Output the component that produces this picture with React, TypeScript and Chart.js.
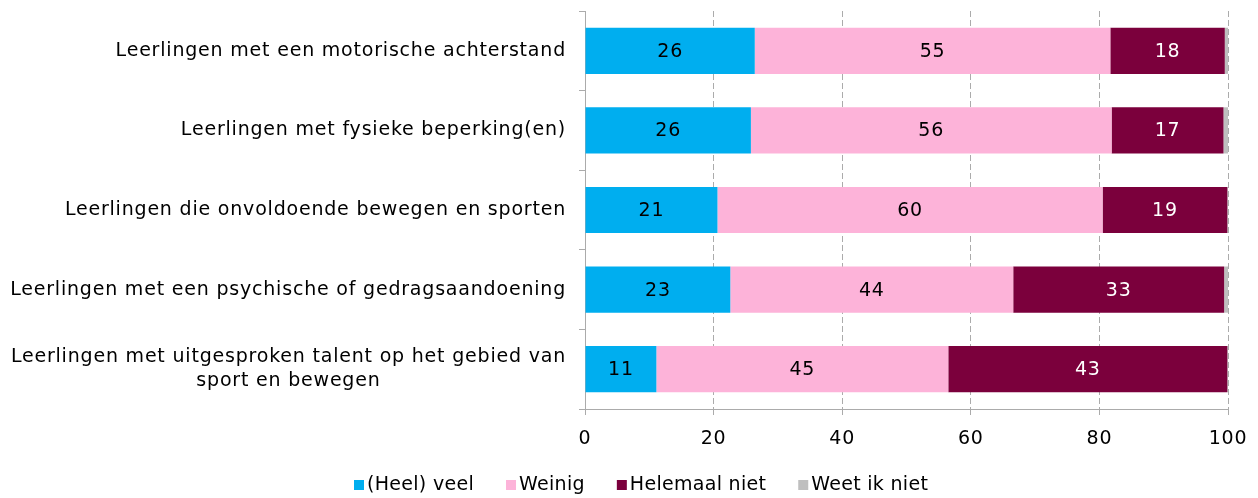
import React, { useEffect, useRef } from "react";
import { Chart, registerables } from "chart.js";

Chart.register(...registerables);

const categories: string[][] = [
  ["Leerlingen met een motorische achterstand"],
  ["Leerlingen met fysieke beperking(en)"],
  ["Leerlingen die onvoldoende bewegen en sporten"],
  ["Leerlingen met een psychische of gedragsaandoening"],
  ["Leerlingen met uitgesproken talent op het gebied van", "sport en bewegen"],
];
const seriesNames = ["(Heel) veel", "Weinig", "Helemaal niet", "Weet ik niet"];
const heelVeel = [26.4, 25.8, 20.6, 22.6, 11.1];
const weinig = [55.3, 56.1, 59.9, 44.0, 45.4];
const helemaalNiet = [17.8, 17.4, 19.4, 32.8, 43.4];
const weetIkNiet = [0.5, 0.7, 0.1, 0.6, 0.1];
const xMin = 0;
const xMax = 100;
const xStep = 20;

const seriesColors = ["#00AEEF", "#FDB3D9", "#7B003C", "#BFBFBF"];
const valueLabelColors: (string | null)[] = ["#000000", "#000000", "#FFFFFF", null];

const FONT = '"DejaVu Sans", sans-serif';
const FONT_SIZE = 19;
const SPACING = "0.8px";
const LEGEND_SPACING = "0.3px";

const spacingPlugin = {
  id: "spacing",
  beforeDraw(chart: any) {
    (chart.ctx as any).letterSpacing = SPACING;
  },
};

const yLabelPlugin = {
  id: "yLabels",
  afterDraw(chart: any) {
    const ctx = chart.ctx;
    const y = chart.scales.y;
    ctx.save();
    ctx.letterSpacing = SPACING;
    ctx.font = `${FONT_SIZE}px ${FONT}`;
    ctx.fillStyle = "#000000";
    ctx.textBaseline = "middle";
    ctx.textAlign = "center";
    categories.forEach((lines, i) => {
      const cy = y.getPixelForTick(i);
      const widths = lines.map((l) => ctx.measureText(l).width);
      const maxW = Math.max(...widths);
      const cx = chart.chartArea.left - 19 - maxW / 2;
      const lh = 24;
      const startY = cy - ((lines.length - 1) * lh) / 2;
      lines.forEach((l, j) => ctx.fillText(l, cx, startY + j * lh));
    });
    ctx.restore();
  },
};

const valueLabelPlugin = {
  id: "valueLabels",
  afterDatasetsDraw(chart: any) {
    const ctx = chart.ctx;
    ctx.save();
    ctx.letterSpacing = SPACING;
    ctx.font = `${FONT_SIZE}px ${FONT}`;
    ctx.textAlign = "center";
    ctx.textBaseline = "middle";
    chart.data.datasets.forEach((ds: any, di: number) => {
      const col = valueLabelColors[di];
      if (!col) return;
      const meta = chart.getDatasetMeta(di);
      ctx.fillStyle = col;
      meta.data.forEach((bar: any, i: number) => {
        const v = ds.data[i] as number;
        const { x, base, y } = bar.getProps(["x", "base", "y"], true);
        ctx.fillText(String(Math.round(v)), (x + base) / 2, y + 1);
      });
    });
    ctx.restore();
  },
};

const legendPlugin = {
  id: "customLegend",
  afterDraw(chart: any) {
    const ctx = chart.ctx;
    ctx.save();
    ctx.letterSpacing = LEGEND_SPACING;
    ctx.font = `${FONT_SIZE}px ${FONT}`;
    ctx.textBaseline = "middle";
    ctx.textAlign = "left";
    const box = 10;
    const gap = 3;
    const itemGap = 32;
    const ds = chart.data.datasets;
    const widths = ds.map((d: any) => box + gap + ctx.measureText(d.label).width);
    const total = widths.reduce((a: number, b: number) => a + b, 0) + itemGap * (ds.length - 1);
    let x = Math.round(641 - total / 2);
    const cy = 485;
    ds.forEach((d: any, i: number) => {
      ctx.fillStyle = d.backgroundColor;
      ctx.fillRect(x, cy - box / 2, box, box);
      ctx.fillStyle = "#000000";
      ctx.fillText(d.label, x + box + gap, cy);
      x += widths[i] + itemGap;
    });
    ctx.restore();
  },
};

export default function App() {
  const ref = useRef<HTMLCanvasElement | null>(null);
  useEffect(() => {
    if (!ref.current) return;
    const seriesData = [heelVeel, weinig, helemaalNiet, weetIkNiet];
    const chart = new Chart(ref.current, {
      type: "bar",
      data: {
        labels: categories.map((c) => c.join(" ")),
        datasets: seriesNames.map((name, i) => ({
          label: name,
          data: seriesData[i],
          backgroundColor: seriesColors[i],
          borderWidth: 0,
          barPercentage: 0.58,
          categoryPercentage: 1,
        })),
      },
      options: {
        indexAxis: "y",
        animation: false,
        responsive: true,
        maintainAspectRatio: false,
        layout: { padding: { top: 11, right: 30, left: 0, bottom: 0 } },
        plugins: {
          legend: { display: false },
          tooltip: { enabled: false },
        },
        scales: {
          x: {
            stacked: true,
            min: xMin,
            max: xMax,
            ticks: {
              stepSize: xStep,
              color: "#000000",
              font: { family: FONT, size: FONT_SIZE },
              padding: 13,
            },
            grid: {
              color: "#ABABAB",
              lineWidth: 1,
              tickLength: 6,
              tickBorderDash: [],
            },
            border: { color: "#ABABAB", width: 1, dash: [6, 3] },
            afterFit(scale: any) {
              scale.height = 89;
              scale.paddingRight = 0;
              scale.paddingLeft = 0;
            },
          },
          y: {
            stacked: true,
            ticks: { display: false },
            grid: {
              drawOnChartArea: false,
              offset: true,
              color: "#ABABAB",
              tickLength: 6,
            },
            border: { color: "#ABABAB", width: 1 },
            afterFit(scale: any) {
              scale.width = 585;
            },
          },
        },
      },
      plugins: [spacingPlugin, yLabelPlugin, valueLabelPlugin, legendPlugin],
    } as any);
    return () => chart.destroy();
  }, []);
  return (
    <div style={{ position: "fixed", left: 0, top: 0, width: 1258, height: 498, background: "#ffffff" }}>
      <canvas ref={ref} />
    </div>
  );
}
